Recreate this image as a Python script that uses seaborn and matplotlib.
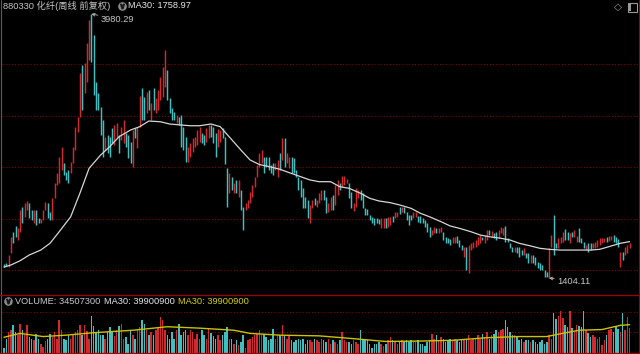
import matplotlib
matplotlib.use("Agg")
import matplotlib.pyplot as plt
from matplotlib.lines import Line2D
from matplotlib.patches import Rectangle
import numpy as np
import pandas as pd
import seaborn as sns

# ---------------- data (weekly candles, 880330 化纤) ----------------
opens = [
    1541, 1551, 1512, 1648, 1853, 1912, 1775, 1853, 2097, 2000,
    2068, 2136, 2068, 1941, 2068, 1990, 1941, 1970, 2068, 2136,
    2048, 1970, 2185, 2312, 2331, 2458, 2526, 2439, 2458, 2429,
    2526, 2653, 2829, 2975, 3483, 3210, 3317, 3532, 3980.29,
    3775, 3317, 3210, 3073, 2946, 2653, 2800, 2780, 2868, 2702,
    2780, 2800, 2751, 2722, 2819, 2800, 2731, 2487, 2868, 2673,
    2878, 3258, 3171, 3014, 3239, 2946, 3258, 3014, 3044, 3141, 3171, 3268,
    3434, 3161, 3063, 3024, 2917, 2975, 2995, 2878, 2780, 2536,
    2585, 2634, 2683, 2702, 2731, 2819, 2800, 2731, 2770, 2897,
    2878, 2819, 2683, 2731, 2868, 2780, 2478, 2234, 2390, 2234,
    2361, 2195, 2263, 2097, 2068, 2087, 2136, 2195, 2292, 2390,
    2487, 2526, 2585, 2585, 2585, 2507, 2526, 2458, 2390, 2624,
    2556, 2770, 2526, 2478, 2585, 2575, 2458, 2390, 2361, 2282,
    2195, 2165, 1941, 2087, 2185, 2097, 2136, 2165, 2263, 2195,
    2048, 2068, 2214, 2117, 2214, 2331, 2292, 2312, 2331, 2331,
    2243, 2058, 2097, 2185, 2263, 2234, 2087, 2078, 2019, 2000,
    1990, 1990, 1980, 1892, 1892, 1990, 1902, 1922, 2009, 1990,
    2000, 2097, 2048, 2097, 2048, 2019, 2019, 1990, 2000, 2009,
    2009, 1990, 1970, 1941, 1902, 1824, 1843, 1892, 1843, 1853,
    1853, 1804, 1795, 1785, 1746, 1746, 1814, 1775, 1726, 1609,
    1707, 1453, 1677, 1697, 1707, 1726, 1746, 1804, 1746, 1775,
    1873, 1804, 1843, 1853, 1795, 1843, 1824, 1912, 1795, 1746,
    1707, 1658, 1707, 1707, 1677, 1629, 1648, 1648, 1551, 1629,
    1609, 1560, 1551, 1531, 1482, 1463, 1404.11,
    1707, 2019, 1746, 1697, 1746, 1756, 1883, 1853, 1746, 1853,
    1804, 1756, 1892, 1795, 1756, 1677, 1746, 1746, 1697, 1697,
    1707, 1726, 1746, 1756, 1804, 1765, 1775, 1824, 1804, 1785,
    1512, 1658, 1629, 1648, 1697,
]
closes = [
    1512, 1521, 1629, 1804, 1746, 1804, 1892, 2068, 1941, 2136,
    2156, 1990, 1970, 2068, 1922, 1941, 1980, 2068, 2146, 1990,
    1970, 2185, 2331, 2429, 2585, 2683, 2409, 2361, 2331, 2536,
    2683, 2878, 2975, 3405, 3044, 3502, 3697, 3922, 3512,
    3190, 3044, 3044, 2800, 2585, 2780, 2624, 2585, 2722, 2897,
    2917, 2624, 2878, 2946, 2683, 2575, 2526, 2848, 2770, 2878,
    3180, 2946, 2946, 3219, 3044, 3112, 3044, 3161, 3239, 3366, 3463, 3629,
    3141, 3014, 2946, 2946, 2995, 2897, 2683, 2653, 2536, 2683,
    2722, 2770, 2780, 2848, 2878, 2722, 2702, 2868, 2897, 2780,
    2722, 2585, 2858, 2848, 2770, 2517, 2097, 2429, 2263, 2331,
    2234, 2361, 2068, 1873, 2136, 2165, 2243, 2312, 2390, 2507,
    2624, 2653, 2429, 2487, 2458, 2429, 2409, 2526, 2556, 2458,
    2770, 2487, 2624, 2585, 2429, 2429, 2390, 2263, 2195, 2087,
    2087, 1990, 2117, 2165, 2117, 2165, 2234, 2263, 2165, 2039,
    2136, 2195, 2068, 2312, 2361, 2263, 2400, 2400, 2370, 2185,
    2087, 2136, 2282, 2263, 2165, 2087, 2019, 2019, 1970, 1941,
    1922, 1941, 1931, 1990, 1990, 1892, 2000, 2000, 1951, 2048,
    2048, 2029, 2097, 2039, 1970, 1922, 1970, 2048, 2048, 1951,
    1941, 1941, 1902, 1853, 1804, 1873, 1902, 1843, 1892, 1902,
    1775, 1746, 1746, 1726, 1804, 1804, 1746, 1707, 1677, 1707,
    1482, 1726, 1746, 1756, 1775, 1804, 1824, 1775, 1824, 1873,
    1824, 1863, 1795, 1775, 1873, 1902, 1892, 1756, 1756, 1697,
    1658, 1707, 1648, 1609, 1629, 1697, 1599, 1551, 1629, 1551,
    1531, 1502, 1482, 1482, 1414, 1414, 1697,
    1824, 1629, 1697, 1795, 1804, 1853, 1775, 1775, 1843, 1804,
    1873, 1814, 1756, 1746, 1697, 1726, 1658, 1677, 1746, 1756,
    1775, 1795, 1795, 1795, 1756, 1814, 1814, 1756, 1746, 1707,
    1658, 1580, 1707, 1726, 1746,
]
# weekly volume, millions of shares
volumes = [
    6, 20, 29, 33, 39, 29, 25, 41, 32, 25, 39,
    22, 20, 18, 26, 20, 13, 8, 16, 20, 26,
    22, 30, 20, 46, 33, 20, 18, 25, 20, 27,
    29, 32, 39, 25, 39, 31, 20, 53,
    38, 30, 33, 25, 25, 20, 30, 36,
    30, 24, 33, 38, 41, 20, 22, 13, 32, 25,
    20, 32, 37, 46, 41, 32, 25, 30, 25, 32,
    37, 51, 46, 32, 25, 20, 30, 20, 32, 41,
    25, 30, 32, 25, 32, 30, 20, 27, 20, 32,
    25, 20, 34, 28, 24,
    20, 25, 18, 25, 30, 37, 20, 20, 13, 18,
    11, 15, 25, 6, 18, 20, 22, 25, 27, 32,
    25, 27, 22, 18, 20, 34, 20, 25, 25, 39,
    25, 20, 25, 18, 15, 18, 20, 18, 20, 13,
    18, 18, 15, 20, 18, 15, 20,
    18, 15, 20, 13, 18, 15, 13, 18, 29, 18,
    15, 15, 13, 18, 15, 13, 32, 20, 20, 18,
    13, 6, 13, 13, 15, 13, 10, 13, 18, 22,
    18, 15, 13, 15, 18, 15, 18, 15, 18, 15,
    15, 18, 13, 13, 10, 15,
    18, 27, 20, 25, 18, 22, 20, 15, 18, 20,
    18, 20, 18, 15, 20, 18, 20, 25, 18, 20,
    20, 25, 20, 27, 22, 29, 20, 25, 27, 32,
    29, 32, 34, 46, 37, 29, 25, 25, 22, 18,
    20, 15, 18, 18, 15, 18,
    15, 13, 15, 18, 13, 15, 25,
    20, 56, 48, 53, 60, 50, 40, 36, 60, 35,
    30, 40, 38, 36, 60, 32, 28, 22, 25, 22,
    20, 22, 11, 18, 25, 32, 34, 30, 38, 34,
    30, 56, 33, 51, 34.5073,
]
# price MA30 (white line), read at bar positions
ma_idx = [0, 3, 7, 11, 16, 20, 24, 29, 33, 37, 42, 46, 50, 55, 59, 63, 68, 72, 77, 81,
          85, 90, 94, 98, 103, 107, 111, 116, 120, 124, 129, 133, 137, 142, 146, 150,
          155, 159, 163, 168, 172, 177, 181, 185, 190, 194, 198, 203, 207, 211, 216,
          220, 224, 229, 233, 237, 242, 246, 250, 255, 259, 263, 268, 272]
ma_vals = [1511, 1531, 1573, 1629, 1677, 1743, 1856, 2002, 2231, 2475, 2604, 2686, 2783,
           2848, 2881, 2936, 2929, 2907, 2897, 2890, 2890, 2907, 2881, 2780, 2653, 2556,
           2512, 2487, 2465, 2432, 2393, 2361, 2344, 2344, 2295, 2280, 2231, 2182, 2156,
           2139, 2117, 2084, 2036, 2002, 1954, 1912, 1889, 1856, 1824, 1807, 1792, 1775,
           1743, 1717, 1694, 1684, 1677, 1677, 1677, 1677, 1684, 1710, 1743, 1758.97]
# volume MA30 (yellow line), millions
vma_idx = [0, 7, 17, 27, 39, 56, 71, 85, 100, 107, 120, 137, 152, 166, 181, 195, 210,
           224, 236, 242, 250, 260, 268, 272]
vma_vals = [22, 27.5, 23, 25, 28.5, 32, 37, 35, 32, 27.5, 25, 24, 20, 16, 16.6, 17.6,
            21.4, 23, 23, 27, 32, 33, 39, 39.9009]
price_grid = [3490, 2985, 2484, 1980, 1482]
vol_grid = [28.8, 58.1]
peak_idx, peak_val = 38, 3980.29
low_idx, low_val = 237, 1404.11

assert len(opens) == len(closes) == len(volumes) == 273
assert len(ma_idx) == len(ma_vals) and len(vma_idx) == len(vma_vals)

# ---------------- style ----------------
sns.set_style("dark")
plt.rcParams['font.family'] = ['Liberation Sans', 'Noto Sans CJK SC', 'DejaVu Sans']

RED = '#d02a2e'
TEAL = '#3fbfc0'
GRID = '#8e0000'
BORDER_RED = '#a00000'
ICON = '#9a9a9a'
FS = 6.65
pal = {'up': RED, 'down': TEAL}

W, H = 640, 354
fig = plt.figure(figsize=(6.4, 3.54), dpi=100, facecolor='black')


def fx(px):
    return px / W


def fy(py):
    return 1 - py / H


ax = fig.add_axes([fx(1.5), fy(294.5), fx(639) - fx(1.5), fy(0) - fy(294.5)])
axv = fig.add_axes([fx(1.5), fy(352.7), fx(639) - fx(1.5), fy(295) - fy(352.7)])

n = len(opens)
df = pd.DataFrame({'i': np.arange(n), 'open': opens, 'close': closes, 'vol': volumes})
df['dir'] = np.where(df['close'] >= df['open'], 'up', 'down')
df['lo'] = df[['open', 'close']].min(axis=1)
df['hi'] = df[['open', 'close']].max(axis=1)

for a in (ax, axv):
    a.set_facecolor('black')
    for s in a.spines.values():
        s.set_visible(False)

# grid
for p in price_grid:
    ax.axhline(p, color=GRID, lw=0.75, ls=(0, (1, 2)), zorder=1)
for v in vol_grid:
    axv.axhline(v, color=GRID, lw=0.75, ls=(0, (1, 2)), zorder=1)

# candles
for d, col in pal.items():
    sub = df[df['dir'] == d]
    ax.vlines(sub['i'], sub['lo'], sub['hi'], color=col, lw=1.05, zorder=3)

# MA30 price line
sns.lineplot(x=ma_idx, y=ma_vals, ax=ax, color='#d6d6d6', lw=0.9,
             estimator=None, sort=False, zorder=5)

# volume bars
sns.barplot(data=df, x='i', y='vol', hue='dir', palette=pal, native_scale=True,
            dodge=False, width=0.62, errorbar=None, legend=False, linewidth=0,
            saturation=1, ax=axv, zorder=3)
sns.lineplot(x=vma_idx, y=vma_vals, ax=axv, color='#c9c400', lw=1.0,
             estimator=None, sort=False, zorder=5)

xl = ((1.5 - 4) / 2.3, (639 - 4) / 2.3)
ax.set_xlim(*xl)
axv.set_xlim(*xl)
ax.set_ylim(4117 - 9.758 * 294.5, 4117)
axv.set_ylim(0, 57.7 * 1.425)
for a in (ax, axv):
    a.set_xticks([])
    a.set_yticks([])
    a.set_xlabel('')
    a.set_ylabel('')
    a.grid(False)

# annotations for extremes
ax.annotate(f"{peak_val:.2f}", xy=(peak_idx, peak_val), xytext=(7, -3.6),
            textcoords='offset points', color='#c8c8c8', fontsize=FS,
            ha='left', va='center',
            arrowprops=dict(arrowstyle='->', color='#b8b8b8', lw=0.6,
                            shrinkA=0, shrinkB=0, mutation_scale=5))
ax.annotate(f"{low_val:.2f}", xy=(low_idx, low_val), xytext=(6, -2.2),
            textcoords='offset points', color='#c8c8c8', fontsize=FS,
            ha='left', va='center',
            arrowprops=dict(arrowstyle='->', color='#b8b8b8', lw=0.6,
                            shrinkA=0, shrinkB=0, mutation_scale=5))

# borders
fig.add_artist(Line2D([fx(1.2), fx(1.2)], [0, 1], color='#5c5c5c', lw=0.8))
fig.add_artist(Line2D([fx(639), fx(639)], [0, 1], color=BORDER_RED, lw=0.8))
fig.add_artist(Line2D([0, 1], [fy(294.8), fy(294.8)], color=BORDER_RED, lw=0.9))
fig.add_artist(Line2D([0, 1], [fy(352.9), fy(352.9)], color=BORDER_RED, lw=0.9))

# header texts
fig.text(fx(3), fy(6), "880330 化纤(周线 前复权)", color='#c4c4c4', fontsize=FS,
         ha='left', va='center')
fig.add_artist(Line2D([fx(121.5)], [fy(6)], marker='o', ms=6.2, color='#8c8c8c',
                      mec='none'))
fig.add_artist(Line2D([fx(121.5)], [fy(6.3)], marker='$\\vee$', ms=3.2, color='#1a1a1a'))
fig.text(fx(128), fy(6), "MA30: 1758.97", color='#e6e6e6', fontsize=FS,
         ha='left', va='center')
fig.text(fx(617.5), fy(7), "◇", color=ICON, fontsize=7.5, ha='center',
         va='center', family=['DejaVu Sans'])
# panel toggle icon (outlined square, filled left part)
fig.add_artist(Rectangle((fx(627.5), fy(11.5)), fx(9), fy(2.5) - fy(11.5),
                         transform=fig.transFigure, fc='none', ec=ICON, lw=0.8))
fig.add_artist(Rectangle((fx(628.5), fy(10.5)), fx(2.5), fy(3.5) - fy(10.5),
                         transform=fig.transFigure, fc=ICON, ec='none'))

fig.add_artist(Line2D([fx(7.5)], [fy(301)], marker='o', ms=6.2, color='#8c8c8c',
                      mec='none'))
fig.add_artist(Line2D([fx(7.5)], [fy(301.3)], marker='$\\vee$', ms=3.2, color='#1a1a1a'))
fig.text(fx(15), fy(301), "VOLUME: 34507300", color='#c8c8c8', fontsize=FS,
         ha='left', va='center')
fig.text(fx(104), fy(301), "MA30: 39900900", color='#e6e6e6', fontsize=FS,
         ha='left', va='center')
fig.text(fx(178), fy(301), "MA30: 39900900", color='#d6d200', fontsize=FS,
         ha='left', va='center')

fig.savefig('out.png', dpi=100, facecolor='black')
